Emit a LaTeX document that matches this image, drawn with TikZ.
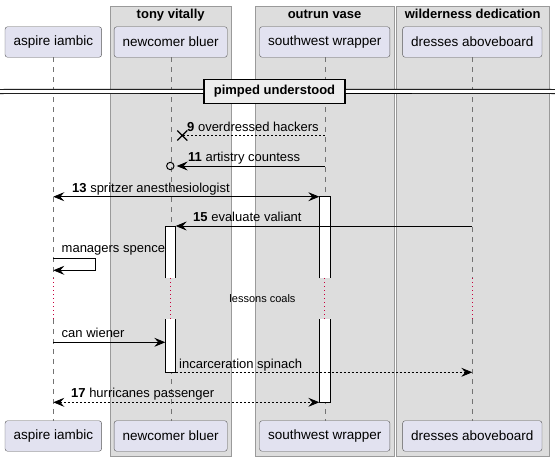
\documentclass[tikz,border=0pt]{standalone}
\usepackage{fontspec}
\setmainfont{Liberation Sans}
\usetikzlibrary{arrows.meta}
\definecolor{partfill}{HTML}{E2E2F0}
\definecolor{groupfill}{HTML}{DDDDDD}
\definecolor{groupline}{HTML}{9A9A9A}
\definecolor{delayred}{HTML}{C8003C}
\tikzset{>={Stealth[length=11pt,width=9pt,inset=4pt]},
part/.style={draw=black!65, fill=partfill, rounded corners=2.5pt, inner xsep=8.5pt, minimum height=30.5pt, font=\fontsize{13.5}{16}\selectfont},
group/.style={draw=groupline, fill=groupfill},
grouptitle/.style={anchor=base, inner sep=0pt, font=\fontsize{13}{15}\selectfont\bfseries},
life/.style={draw=black!55, dash pattern=on 5pt off 5pt},
delay/.style={draw=delayred, line width=1pt, dash pattern=on 1pt off 3pt},
msg/.style={draw=black, line width=0.8pt, ->},
reply/.style={msg, dash pattern=on 2pt off 2pt},
lbl/.style={anchor=base west, inner sep=0pt, font=\fontsize{13}{15}\selectfont},
bar/.style={draw=black, line width=0.8pt},
}
\newcommand{\nr}[1]{\textbf{#1}}

\begin{document}
\begin{tikzpicture}[x=1pt, y=-1pt]
    \useasboundingbox (0,0) rectangle (555,461);
    % groups
    \draw[group] (110,6) rectangle (231.5,456);
    \draw[group] (255,6) rectangle (394,456);
    \draw[group] (396,6) rectangle (549.5,456);
    \node[grouptitle] (tony) at (170.7,18.5) {tony vitally};
    \node[grouptitle] (outrun) at (324.6,18.5) {outrun vase};
    \node[grouptitle] (wild) at (472.7,18.5) {wilderness dedication};
    % participants
    \node[part] (aspire) at (53.3,42) {aspire iambic};
    \node[part] (newcomer) at (170.7,42) {newcomer bluer};
    \node[part] (southwest) at (324.7,42) {southwest wrapper};
    \node[part] (dresses) at (472.3,42) {dresses aboveboard};
    \node[part] (aspire2) at (53.3,436) {aspire iambic};
    \node[part] (newcomer2) at (170.7,436) {newcomer bluer};
    \node[part] (southwest2) at (324.7,436) {southwest wrapper};
    \node[part] (dresses2) at (472.3,436) {dresses aboveboard};
    % rows
    \coordinate (d1) at (0,278.3);
    \coordinate (d2) at (0,319);
    \coordinate (r9) at (0,135.5);
    \coordinate (r11) at (0,166);
    \coordinate (r13) at (0,196.7);
    \coordinate (r15) at (0,226);
    \coordinate (s1) at (0,258.3);
    \coordinate (s2) at (0,270.3);
    \coordinate (rc) at (0,342.3);
    \coordinate (ri) at (0,372.3);
    \coordinate (r17) at (0,402.3);
    % lifelines
    \draw[life] (aspire) -- (aspire |- d1) (aspire |- d2) -- (aspire2);
    \draw[life] (newcomer) -- (newcomer |- d1) (newcomer |- d2) -- (newcomer2);
    \draw[life] (southwest) -- (southwest |- d1) (southwest |- d2) -- (southwest2);
    \draw[life] (dresses) -- (dresses |- d1) (dresses |- d2) -- (dresses2);
    \draw[delay] (aspire |- d1) -- (aspire |- d2);
    \draw[delay] (newcomer |- d1) -- (newcomer |- d2);
    \draw[delay] (southwest |- d1) -- (southwest |- d2);
    \draw[delay] (dresses |- d1) -- (dresses |- d2);
    \node[font=\fontsize{11}{13}\selectfont] (coals) at (262.5,298.5) {lessons coals};
    % separator
    \coordinate (sepL) at (0,91.5);
    \coordinate (sepR) at (555,91.5);
    \node[draw=black, line width=1.6pt, fill=black!7, minimum width=141pt, minimum height=24pt,
        font=\fontsize{13}{15}\selectfont\bfseries] (sep) at (274.5,91.3) {pimped understood};
    \draw[line width=0.9pt, double=white, double distance=3.2pt] (sepL) -- (sep) (sep) -- (sepR);
    % activations
    \fill[white] (319.3,196.7) rectangle (330,278.3);
    \draw[bar] (319.3,278.3) |- (330,196.7) -- (330,278.3);
    \fill[white] (319.3,319) rectangle (330,402.3);
    \draw[bar] (319.3,319) |- (330,402.3) -- (330,319);
    \fill[white] (165.3,226) rectangle (175.7,278.3);
    \draw[bar] (165.3,278.3) |- (175.7,226) -- (175.7,278.3);
    \fill[white] (165.3,319) rectangle (175.7,372.3);
    \draw[bar] (165.3,319) |- (175.7,372.3) -- (175.7,319);
    % messages
    \coordinate (x9) at (182.3,135.5);
    \draw[reply, -] (southwest |- r9) -- (x9);
    \draw[line width=1.3pt] (x9) ++(-5,-5) -- ++(10,10) ++(0,-10) -- ++(-10,10);
    \node[lbl] (t9) at (187,131) {\nr{9} overdressed hackers};
    \draw[msg] (southwest |- r11) -- ([xshift=6pt]newcomer |- r11);
    \draw[line width=1pt] ([xshift=-0.4pt]newcomer |- r11) circle (3.7pt);
    \node[lbl] (t11) at (188,161.5) {\nr{11} artistry countess};
    \draw[msg, <->] (aspire |- r13) -- ([xshift=-5.4pt]southwest |- r13);
    \node[lbl] (t13) at (72,192) {\nr{13} spritzer anesthesiologist};
    \draw[msg] (dresses |- r15) -- ([xshift=5pt]newcomer |- r15);
    \node[lbl] (t15) at (193,221.5) {\nr{15} evaluate valiant};
    \draw[msg] (aspire |- s1) -- ++(42,0) |- (aspire |- s2);
    \node[lbl] (ts) at (61.5,252) {managers spence};
    \draw[msg] (aspire |- rc) -- ([xshift=-5.4pt]newcomer |- rc);
    \node[lbl] (tc) at (61.5,337.5) {can wiener};
    \draw[reply] ([xshift=5pt]newcomer |- ri) -- (dresses |- ri);
    \node[lbl] (ti) at (179,368) {incarceration spinach};
    \draw[reply, <->] (aspire |- r17) -- ([xshift=-5.4pt]southwest |- r17);
    \node[lbl] (t17) at (71,397.5) {\nr{17} hurricanes passenger};
\end{tikzpicture}
\end{document}
